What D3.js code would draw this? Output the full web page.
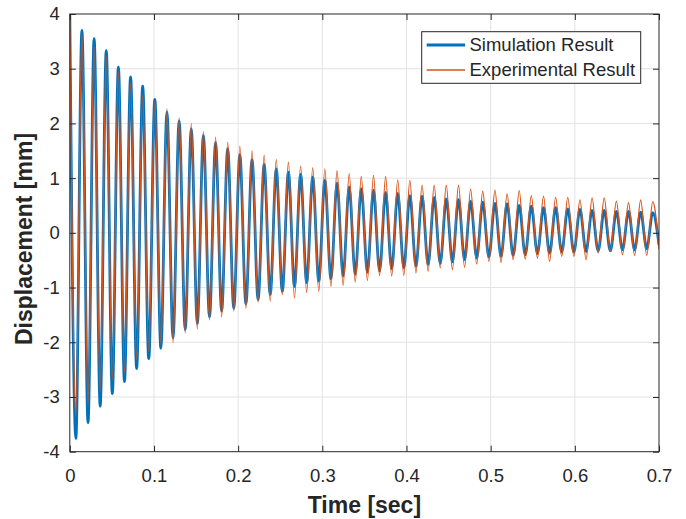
<!DOCTYPE html>
<html>
<head>
<meta charset="utf-8">
<script src="https://cdn.jsdelivr.net/npm/d3@7"></script>
<style>
  html, body { margin: 0; padding: 0; background: #fff; }
  svg { display: block; }
  text { font-family: "Liberation Sans", Arial, sans-serif; fill: #262626; }
</style>
</head>
<body>
<svg id="chart" width="686" height="519"></svg>
<script>
// ---------- data ----------
const xTicks = [0, 0.1, 0.2, 0.3, 0.4, 0.5, 0.6, 0.7];
const xTickLabels = ["0", "0.1", "0.2", "0.3", "0.4", "0.5", "0.6", "0.7"];
const yTicks = [-4, -3, -2, -1, 0, 1, 2, 3, 4];
const yTickLabels = ["-4", "-3", "-2", "-1", "0", "1", "2", "3", "4"];
const seriesNames = ["Simulation Result", "Experimental Result"];

// times of the positive peaks (s)
const peakTimes = [0, 0.0144, 0.0289, 0.0433, 0.0577, 0.0722, 0.0866, 0.1010, 0.1154, 0.1299,
  0.1443, 0.1587, 0.1732, 0.1876, 0.2020, 0.2165, 0.2309, 0.2453, 0.2597, 0.2742,
  0.2886, 0.3030, 0.3175, 0.3319, 0.3463, 0.3608, 0.3752, 0.3896, 0.4040, 0.4185,
  0.4329, 0.4473, 0.4618, 0.4762, 0.4906, 0.5051, 0.5195, 0.5339, 0.5483, 0.5628,
  0.5772, 0.5916, 0.6061, 0.6205, 0.6349, 0.6494, 0.6638, 0.6782, 0.6926];
const endTime = 0.7;

// simulation: peak and trough displacements (mm)
const simPeaks = [4.00, 3.70, 3.55, 3.33, 3.03, 2.85, 2.68, 2.44, 2.21, 2.05,
  1.90, 1.78, 1.65, 1.54, 1.43, 1.34, 1.25, 1.17, 1.11, 1.07,
  1.02, 0.96, 0.91, 0.84, 0.81, 0.78, 0.74, 0.72, 0.68, 0.67,
  0.65, 0.62, 0.61, 0.58, 0.56, 0.54, 0.53, 0.50, 0.49, 0.46,
  0.46, 0.44, 0.43, 0.41, 0.41, 0.39, 0.39, 0.38, 0.37];
const simTroughs = [-3.76, -3.47, -3.17, -2.94, -2.72, -2.48, -2.30, -2.11, -1.92, -1.77,
  -1.66, -1.54, -1.43, -1.38, -1.30, -1.22, -1.13, -1.07, -0.98, -0.91,
  -0.88, -0.84, -0.79, -0.76, -0.72, -0.70, -0.66, -0.64, -0.61, -0.58,
  -0.56, -0.53, -0.49, -0.46, -0.44, -0.43, -0.41, -0.40, -0.38, -0.37,
  -0.35, -0.35, -0.34, -0.33, -0.33, -0.31, -0.31, -0.29];
const simEnd = -0.22;

// experiment: peak and trough displacements (mm)
const expPeaks = [3.95, 3.66, 3.40, 3.23, 2.95, 2.74, 2.52, 2.41, 2.27, 2.10,
  2.00, 1.85, 1.75, 1.66, 1.58, 1.50, 1.42, 1.34, 1.29, 1.22,
  1.19, 1.17, 1.14, 1.08, 1.03, 1.05, 1.03, 0.97, 0.96, 0.87,
  0.87, 0.87, 0.87, 0.80, 0.76, 0.78, 0.71, 0.77, 0.68, 0.67,
  0.65, 0.65, 0.60, 0.64, 0.64, 0.58, 0.55, 0.60, 0.57];
const expTroughs = [-3.35, -3.14, -2.90, -2.68, -2.56, -2.32, -2.16, -2.04, -2.01, -1.83,
  -1.76, -1.59, -1.54, -1.43, -1.38, -1.27, -1.25, -1.13, -1.19, -1.09,
  -1.07, -0.98, -0.96, -0.90, -0.87, -0.78, -0.79, -0.78, -0.73, -0.70,
  -0.64, -0.67, -0.63, -0.57, -0.52, -0.54, -0.49, -0.48, -0.46, -0.52,
  -0.43, -0.43, -0.49, -0.37, -0.34, -0.40, -0.41, -0.41];
const expEnd = -0.30;

// ---------- layout ----------
const W = 686, H = 519;
const plot = { left: 69.8, right: 659, top: 14, bottom: 451.7 };
const colors = { sim: "#0072BD", exp: "#D95319", axis: "#262626", grid: "#e3e3e3" };
const fontSize = 18.5;

const svg = d3.select("#chart");
svg.append("rect").attr("width", W).attr("height", H).attr("fill", "#fff");

const x = d3.scaleLinear().domain([0, 0.7]).range([plot.left, plot.right]);
const y = d3.scaleLinear().domain([-4, 4]).range([plot.bottom, plot.top]);

// grid
const grid = svg.append("g");
grid.selectAll(".gx").data(xTicks.slice(1, -1)).join("line")
  .attr("x1", d => x(d)).attr("x2", d => x(d))
  .attr("y1", plot.top).attr("y2", plot.bottom)
  .attr("stroke", colors.grid).attr("stroke-width", 1);
grid.selectAll(".gy").data(yTicks.slice(1, -1)).join("line")
  .attr("y1", d => y(d)).attr("y2", d => y(d))
  .attr("x1", plot.left).attr("x2", plot.right)
  .attr("stroke", colors.grid).attr("stroke-width", 1);

// series points
function buildSeries(peaks, troughs, endVal) {
  const pts = [];
  peaks.forEach((v, i) => {
    pts.push([peakTimes[i], v]);
    if (i < troughs.length) {
      pts.push([(peakTimes[i] + peakTimes[i + 1]) / 2, troughs[i]]);
    }
  });
  pts.push([endTime, endVal]);
  return pts;
}
const simData = buildSeries(simPeaks, simTroughs, simEnd);
const expData = buildSeries(expPeaks, expTroughs, expEnd);

svg.append("clipPath").attr("id", "clip").append("rect")
  .attr("x", plot.left).attr("y", plot.top)
  .attr("width", plot.right - plot.left).attr("height", plot.bottom - plot.top);

const line = d3.line().x(d => x(d[0])).y(d => y(d[1])).curve(d3.curveMonotoneX);
const lines = svg.append("g").attr("clip-path", "url(#clip)");
lines.append("path").datum(simData).attr("d", line)
  .attr("fill", "none").attr("stroke", colors.sim).attr("stroke-width", 2.8)
  .attr("stroke-linejoin", "round");
lines.append("path").datum(expData).attr("d", line)
  .attr("fill", "none").attr("stroke", colors.exp).attr("stroke-width", 1.3)
  .attr("stroke-linejoin", "round");

// axes
function styleAxis(g) {
  g.select(".domain").remove();
  g.selectAll(".tick line").attr("stroke", colors.axis);
  g.selectAll(".tick text").attr("fill", colors.axis)
    .style("font-size", fontSize + "px").style("font-family", '"Liberation Sans", Arial, sans-serif');
}
svg.append("g").attr("transform", `translate(0,${plot.bottom})`)
  .call(d3.axisBottom(x).tickValues(xTicks).tickFormat((d, i) => xTickLabels[i]).tickSize(-6).tickPadding(17))
  .call(styleAxis);
svg.append("g").attr("transform", `translate(0,${plot.top})`)
  .call(d3.axisTop(x).tickValues(xTicks).tickFormat("").tickSize(-6))
  .call(styleAxis);
svg.append("g").attr("transform", `translate(${plot.left},0)`)
  .call(d3.axisLeft(y).tickValues(yTicks).tickFormat((d, i) => yTickLabels[i]).tickSize(-6).tickPadding(10))
  .call(styleAxis);
svg.append("g").attr("transform", `translate(${plot.right},0)`)
  .call(d3.axisRight(y).tickValues(yTicks).tickFormat("").tickSize(-6))
  .call(styleAxis);

// box
svg.append("rect")
  .attr("x", plot.left).attr("y", plot.top)
  .attr("width", plot.right - plot.left).attr("height", plot.bottom - plot.top)
  .attr("fill", "none").attr("stroke", colors.axis).attr("stroke-width", 1);

// axis labels
svg.append("text").attr("x", (plot.left + plot.right) / 2).attr("y", 513)
  .attr("text-anchor", "middle").style("font-weight", "bold").style("font-size", "23px")
  .text("Time [sec]");
svg.append("text").attr("transform", `translate(32,239) rotate(-90)`)
  .attr("text-anchor", "middle").style("font-weight", "bold").style("font-size", "23px")
  .text("Displacement [mm]");

// legend
const legend = svg.append("g");
legend.append("rect").attr("x", 421.7).attr("y", 31.7).attr("width", 219).attr("height", 51.6)
  .attr("fill", "#fff").attr("stroke", colors.axis).attr("stroke-width", 1);
const legendItems = [
  { name: seriesNames[0], color: colors.sim, width: 2.8, cy: 45 },
  { name: seriesNames[1], color: colors.exp, width: 1.3, cy: 70 }
];
legendItems.forEach(it => {
  legend.append("line").attr("x1", 426.7).attr("x2", 465).attr("y1", it.cy).attr("y2", it.cy)
    .attr("stroke", it.color).attr("stroke-width", it.width);
  legend.append("text").attr("x", 469.5).attr("y", it.cy).attr("dy", "0.35em")
    .style("font-size", fontSize + "px").text(it.name);
});
</script>
</body>
</html>
